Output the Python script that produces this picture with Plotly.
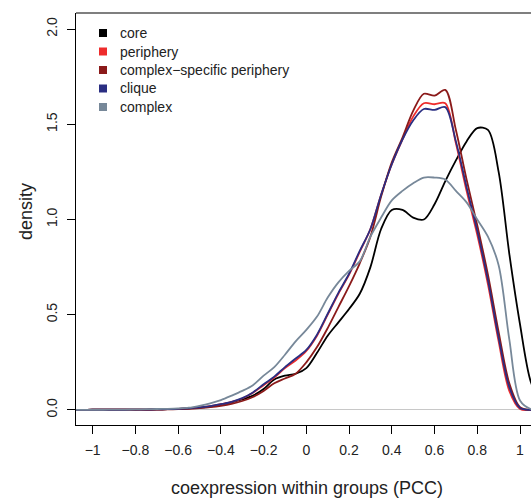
import plotly.graph_objects as go

# ---- data ----
pcc = [-1.10, -1.05, -1.00, -0.95, -0.90, -0.85, -0.80, -0.75, -0.70, -0.65,
       -0.60, -0.55, -0.50, -0.45, -0.40, -0.35, -0.30, -0.25, -0.20, -0.15,
       -0.10, -0.05, 0.00, 0.05, 0.10, 0.15, 0.20, 0.25, 0.30, 0.35,
       0.40, 0.45, 0.50, 0.55, 0.60, 0.65, 0.70, 0.75, 0.80, 0.85,
       0.90, 0.95, 1.00, 1.05, 1.10]

core = [0, 0, 0.001, 0.001, 0.001, 0.001, 0.002, 0.002, 0.003, 0.004,
        0.005, 0.008, 0.012, 0.018, 0.028, 0.04, 0.055, 0.075, 0.11, 0.16,
        0.18, 0.19, 0.22, 0.30, 0.39, 0.46, 0.53, 0.61, 0.75, 0.95,
        1.05, 1.05, 1.01, 1.00, 1.08, 1.20, 1.31, 1.41, 1.48, 1.47,
        1.25, 0.82, 0.45, 0.15, 0.03]

periphery = [0, 0, 0.001, 0.001, 0.001, 0.001, 0.002, 0.002, 0.003, 0.004,
             0.006, 0.009, 0.014, 0.02, 0.03, 0.042, 0.06, 0.09, 0.13, 0.17,
             0.22, 0.26, 0.31, 0.39, 0.50, 0.61, 0.71, 0.83, 0.95, 1.13,
             1.29, 1.42, 1.54, 1.61, 1.605, 1.61, 1.40, 1.15, 0.92, 0.66,
             0.36, 0.10, 0.005, 0, 0]

cs_periphery = [0, 0, 0.001, 0.001, 0.001, 0.001, 0.001, 0.002, 0.002, 0.003,
                0.004, 0.006, 0.01, 0.015, 0.022, 0.032, 0.047, 0.068, 0.10, 0.14,
                0.165, 0.19, 0.25, 0.33, 0.43, 0.54, 0.65, 0.77, 0.91, 1.12,
                1.30, 1.43, 1.57, 1.66, 1.65, 1.68, 1.47, 1.21, 0.97, 0.71,
                0.41, 0.14, 0.015, 0, 0]

clique = [0, 0, 0.001, 0.001, 0.001, 0.001, 0.002, 0.002, 0.003, 0.004,
          0.006, 0.009, 0.014, 0.02, 0.03, 0.043, 0.062, 0.092, 0.135, 0.175,
          0.225, 0.27, 0.315, 0.395, 0.505, 0.615, 0.715, 0.835, 0.95, 1.13,
          1.29, 1.42, 1.52, 1.58, 1.575, 1.59, 1.41, 1.17, 0.94, 0.68,
          0.38, 0.12, 0.01, 0, 0]

complex_ = [0, 0, 0.001, 0.001, 0.002, 0.002, 0.003, 0.004, 0.005, 0.006,
            0.008, 0.012, 0.022, 0.035, 0.052, 0.075, 0.10, 0.13, 0.18, 0.225,
            0.29, 0.36, 0.42, 0.49, 0.59, 0.67, 0.73, 0.78, 0.91, 1.01,
            1.10, 1.15, 1.19, 1.22, 1.22, 1.21, 1.15, 1.09, 1.00, 0.91,
            0.76, 0.37, 0.05, 0.005, 0]

series_names = ["core", "periphery", "complex\u2212specific periphery", "clique", "complex"]
series_values = [core, periphery, cs_periphery, clique, complex_]
series_colors = ["#000000", "#EE2C2C", "#8B1A1A", "#2A2E82", "#778899"]

x_ticks = [-1, -0.8, -0.6, -0.4, -0.2, 0, 0.2, 0.4, 0.6, 0.8, 1]
x_ticktext = ["\u22121", "\u22120.8", "\u22120.6", "\u22120.4", "\u22120.2", "0",
              "0.2", "0.4", "0.6", "0.8", "1"]
y_ticks = [0, 0.5, 1.0, 1.5, 2.0]
y_ticktext = ["0.0", "0.5", "1.0", "1.5", "2.0"]

# ---- layout geometry (pixels) ----
W, H = 531, 498
ML, MR, MT, MB = 76, 0, 13, 73
PW, PH = W - ML - MR, H - MT - MB
FONT = "Liberation Sans, Arial, Helvetica, sans-serif"


def px_x(px):
    return (px - ML) / PW


def px_y(py):
    return (H - MB - py) / PH


fig = go.Figure()
for name, vals, col in zip(series_names, series_values, series_colors):
    fig.add_trace(go.Scatter(
        x=pcc, y=vals, mode="lines", name=name,
        line=dict(color=col, width=1.8, shape="spline", smoothing=0.9),
        showlegend=False, hoverinfo="skip"))

shapes = [
    # top border of the box
    dict(type="line", xref="paper", yref="paper", x0=0, x1=1, y0=1, y1=1,
         line=dict(color="black", width=1.2)),
]
annotations = []

# manual legend (squares + labels) in the top-left corner
leg_x_sq, leg_x_txt = 103, 118
leg_y0, leg_dy = 33, 18.5
for i, (name, col) in enumerate(zip(series_names, series_colors)):
    cy = leg_y0 + i * leg_dy
    shapes.append(dict(type="rect", xref="paper", yref="paper",
                       x0=px_x(leg_x_sq - 4), x1=px_x(leg_x_sq + 4),
                       y0=px_y(cy + 4), y1=px_y(cy - 4),
                       fillcolor=col, line=dict(width=0)))
    annotations.append(dict(xref="paper", yref="paper", x=px_x(leg_x_txt), y=px_y(cy),
                            text=name, showarrow=False, xanchor="left", yanchor="middle",
                            font=dict(family=FONT, size=14, color="#222222")))

# axis titles
annotations.append(dict(xref="paper", yref="paper", x=px_x(307), y=px_y(488),
                        text="coexpression within groups (PCC)", showarrow=False,
                        xanchor="center", yanchor="middle",
                        font=dict(family=FONT, size=18, color="#222222")))
annotations.append(dict(xref="paper", yref="paper", x=px_x(26), y=px_y(212),
                        text="density", showarrow=False, textangle=-90,
                        xanchor="center", yanchor="middle",
                        font=dict(family=FONT, size=18, color="#222222")))

fig.update_layout(
    width=W, height=H,
    margin=dict(l=ML, r=MR, t=MT, b=MB, pad=0),
    paper_bgcolor="white", plot_bgcolor="white",
    showlegend=False,
    shapes=shapes, annotations=annotations,
    font=dict(family=FONT, size=14, color="#222222"),
)
fig.update_xaxes(
    range=[-1.078, 1.0515], tickvals=x_ticks, ticktext=x_ticktext,
    showgrid=False, zeroline=False, showline=True, linecolor="black", linewidth=1.2,
    ticks="outside", ticklen=8, tickwidth=1.2, tickcolor="black",
    tickfont=dict(family=FONT, size=14, color="#222222"), ticklabelstandoff=4,
)
fig.update_yaxes(
    range=[-0.079, 2.084], tickvals=y_ticks, ticktext=y_ticktext,
    showgrid=False, zeroline=True, zerolinecolor="#C8C8C8", zerolinewidth=1.2,
    showline=True, linecolor="black", linewidth=1.2,
    ticks="outside", ticklen=8, tickwidth=1.2, tickcolor="black", tickangle=-90,
    tickfont=dict(family=FONT, size=14, color="#222222"), ticklabelstandoff=4,
)

fig.write_html("out.html")
